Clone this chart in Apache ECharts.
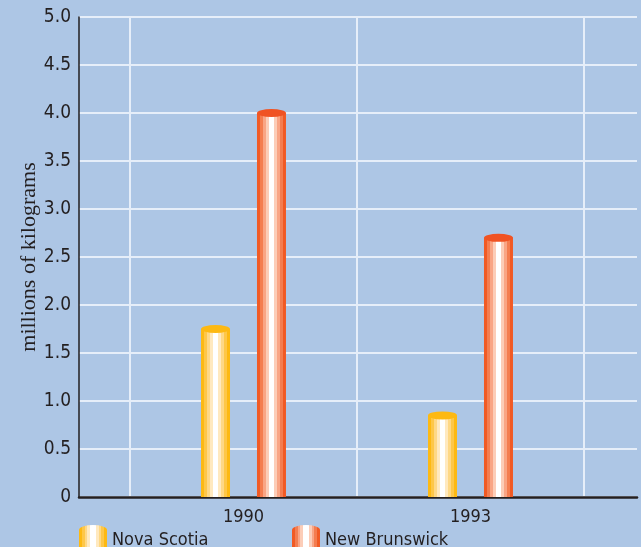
<!DOCTYPE html>
<html>
<head>
<meta charset="utf-8">
<script src="https://cdn.jsdelivr.net/npm/echarts@6/dist/echarts.min.js"></script>
<style>
  html, body { margin: 0; padding: 0; background: #adc6e5; }
  #chart { width: 641px; height: 547px; }
</style>
</head>
<body>
<div id="chart"></div>
<script>
// Categories and values (millions of kilograms)
const categories = ['1990', '1993'];
const seriesNames = ['Nova Scotia', 'New Brunswick'];
const novaScotia = [1.75, 0.85];
const newBrunswick = [4.0, 2.7];
const yMin = 0, yMax = 5, yStep = 0.5;

const ink = '#231f20';
const narrow = "'Liberation Sans Narrow', 'DejaVu Sans Condensed', 'Arial Narrow', sans-serif";

// Striped cylinder shading, edge -> white core -> edge
function stripes(c) {
  const s = [];
  const bands = [c[0], c[1], c[2], c[3], '#ffffff', '#ffffff', c[3], c[2], c[1], c[0]];
  const n = bands.length;
  bands.forEach((col, i) => {
    s.push({ offset: i / n, color: col });
    s.push({ offset: (i + 1) / n - 0.0001, color: col });
  });
  return new echarts.graphic.LinearGradient(0, 0, 1, 0, s);
}
const yellowBands = ['#fdb913', '#fec748', '#fed886', '#ffe9bf'];
const redBands = ['#f15a24', '#f47d50', '#f9a585', '#fccdb8'];
const yellowCap = '#fdb913';
const redCap = '#f05323';

const chart = echarts.init(document.getElementById('chart'));

const cylinderIcon = 'path://M0,5 A14,5 0 0 1 28,5 L28,30 L0,30 Z';

const option = {
  backgroundColor: '#adc6e5',
  animation: false,
  grid: [
    { left: 79, right: 4, top: 17, bottom: 50 },
    { left: 130, right: 57, top: 17, bottom: 50 }
  ],
  legend: [
    {
      data: [{ name: seriesNames[0], icon: cylinderIcon }],
      left: 79, top: 525, itemWidth: 28, itemHeight: 30, itemGap: 8,
      textStyle: { fontFamily: narrow, fontSize: 18, color: ink, padding: [7, 0, 0, 0] },
      padding: 0
    },
    {
      data: [{ name: seriesNames[1], icon: cylinderIcon }],
      left: 292, top: 525, itemWidth: 28, itemHeight: 30, itemGap: 8,
      textStyle: { fontFamily: narrow, fontSize: 18, color: ink, padding: [7, 0, 0, 0] },
      padding: 0
    }
  ],
  xAxis: [
    {
      type: 'value', gridIndex: 0, min: 0, max: 1,
      axisLine: { show: true, onZero: false, lineStyle: { color: ink, width: 2.5 } },
      axisTick: { show: false }, axisLabel: { show: false }, splitLine: { show: false }
    },
    {
      type: 'category', gridIndex: 1, data: categories,
      axisLine: { show: false }, axisTick: { show: false },
      axisLabel: { margin: 11, fontFamily: narrow, fontSize: 18, color: ink },
      splitLine: { show: true, lineStyle: { color: '#e6eef9', width: 2 } }
    }
  ],
  yAxis: [
    {
      type: 'value', gridIndex: 0, min: yMin, max: yMax, interval: yStep,
      name: 'millions of kilograms', nameLocation: 'middle', nameGap: 39,
      nameMoveOverlap: false,
      nameTextStyle: { fontFamily: "'Liberation Serif', 'Times New Roman', serif", fontSize: 22, color: ink },
      axisLine: { show: true, lineStyle: { color: ink, width: 1.5 } },
      axisTick: { show: false },
      axisLabel: {
        margin: 8, fontFamily: narrow, fontSize: 19, color: ink,
        formatter: v => (v === 0 ? '0' : v.toFixed(1))
      },
      splitLine: { show: true, lineStyle: { color: '#e6eef9', width: 2 } }
    },
    {
      type: 'value', gridIndex: 1, min: yMin, max: yMax, interval: yStep,
      show: false, splitLine: { show: false }
    }
  ],
  series: [
    {
      name: seriesNames[0], type: 'bar', xAxisIndex: 1, yAxisIndex: 1,
      data: novaScotia, barWidth: 29, barGap: '93%',
      itemStyle: { color: stripes(yellowBands) }, z: 3
    },
    {
      name: seriesNames[1], type: 'bar', xAxisIndex: 1, yAxisIndex: 1,
      data: newBrunswick, barWidth: 29, barGap: '93%',
      itemStyle: { color: stripes(redBands) }, z: 3
    },
    // Elliptical caps on the cylinder tops
    {
      name: 'capNS', type: 'pictorialBar', xAxisIndex: 1, yAxisIndex: 1,
      data: novaScotia, barWidth: 29, barGap: '93%',
      symbol: 'circle', symbolSize: [29, 8], symbolPosition: 'end', symbolOffset: [0, '-50%'],
      itemStyle: { color: yellowCap }, z: 4
    },
    {
      name: 'capNB', type: 'pictorialBar', xAxisIndex: 1, yAxisIndex: 1,
      data: newBrunswick, barWidth: 29, barGap: '93%',
      symbol: 'circle', symbolSize: [29, 8], symbolPosition: 'end', symbolOffset: [0, '-50%'],
      itemStyle: { color: redCap }, z: 4
    }
  ]
};
chart.setOption(option);
</script>
</body>
</html>
